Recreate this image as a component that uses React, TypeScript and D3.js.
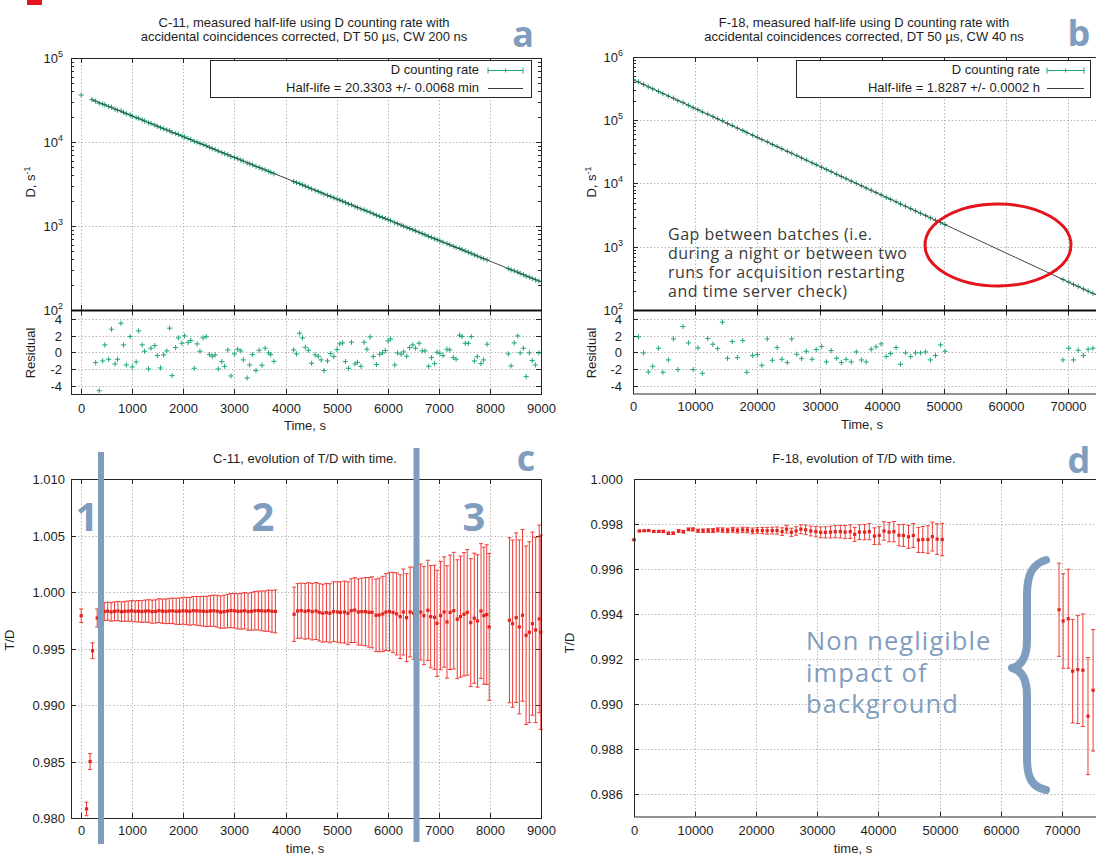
import React from 'react';
import * as d3 from 'd3';

// ---------- data ----------

// panel a: C-11 counting rate, fit parameters from the legend
const c11HalfLifeMin = 20.3303;
const c11RateAtZero = 3.6e4;
const c11FitStart = 200;
const c11EarlyTime = [0, 210];
const c11EarlyRate = [3.62e4, 3.2e4];
const c11ResTime = [
  283, 352, 421, 462, 538, 593, 662, 710, 779, 828, 883, 959, 1000, 1076, 1124, 1193, 1241, 1317, 1366, 1441,
  1490, 1552, 1614, 1676, 1731, 1779, 1848, 1903, 1972, 2021, 2090, 2145, 2214, 2269, 2324, 2386, 2448, 2510, 2566, 2621,
  2683, 2752, 2807, 2869, 2931, 3000, 3062, 3124, 3172, 3248, 3297, 3352, 3421, 3483, 3538, 3600, 3669, 3710, 3772,
  4159, 4214, 4276, 4331, 4386, 4448, 4510, 4579, 4641, 4697, 4752, 4821, 4883, 4945, 5007, 5062, 5117, 5172, 5234, 5290,
  5359, 5407, 5476, 5538, 5593, 5655, 5717, 5779, 5841, 5897, 5952, 6007, 6055, 6138, 6193, 6262, 6310, 6372, 6428, 6490,
  6545, 6614, 6676, 6731, 6800, 6855, 6917, 6966, 7021, 7083, 7159, 7214, 7283, 7338, 7407, 7455, 7517, 7579, 7634, 7697,
  7752, 7824, 7876, 7945,
  8359, 8414, 8476, 8545, 8593, 8655, 8710, 8772, 8828, 8890, 8959,
];
const c11Residual = [
  -1.24, -4.6, -1.04, 0.88, -0.84, 2.76, -1.4, -0.84, 3.48, 0.88, -1.52, 1.88, -1.76, -1.16, 2.56, 0.88, 0.12, -2.0, 0.48, 0.8,
  -0.4, -1.88, -0.32, 0.16, 2.88, -2.8, 0.56, 1.72, 1.08, 1.96, 1.16, 1.4, -1.92, 1.0, 0.12, 1.72, 1.88, -0.28, -0.48, -0.32,
  -2.0, -1.12, -1.68, 0.28, -2.84, -0.2, 0.36, 0.16, -0.92, -3.08, -1.52, -0.28, -2.2, 0.24, -1.56, 0.48, -0.08, -0.28, -1.08,
  0.28, -0.2, 2.28, 1.72, 0.6, 0.24, -1.32, -0.32, -0.48, -0.92, -2.2, -1.04, -0.16, -0.52, 0.32, 1.0, 1.12, -1.12, -1.92, 1.2,
  -1.4, -1.2, -1.68, 1.2, 0.36, 1.84, -0.52, -1.48, -0.24, -0.08, 0.2, 1.36, 1.6, -1.52, -0.08, -0.24, 0.04, -0.48, 0.56, 0.88,
  0.48, 1.08, 0.16, 0.16, -1.68, -0.64, -1.36, 0.0, -0.12, -0.4, 0.36, 0.28, -0.64, -0.84, 2.04, 1.88, 1.08, 1.08, 1.88, -1.04,
  -0.52, -1.36, -0.92, 0.96,
  -0.2, -1.64, 1.12, 1.96, -0.08, 0.48, -2.92, -0.08, -1.0, -1.52, -0.08,
];

// panel b: F-18 counting rate
const f18HalfLifeH = 1.8287;
const f18RateAtZero = 4.4e5;
const f18ResTime = [
  874, 1694, 2459, 3169, 4098, 4809, 5683, 6503, 7213, 8033, 8907, 9672, 10437, 11148, 12022, 12842, 13607, 14372, 15191, 15956,
  16776, 17650, 18306, 19235, 20000, 20710, 21585, 22404, 23169, 23934, 24809, 25519, 26339, 27104, 27869, 28798, 29454, 30328,
  31093, 31858, 32732, 33497, 34262, 35082, 35902, 36721, 37486, 38306, 39071, 39891, 40710, 41421, 42295, 43005, 43825, 44645,
  45410, 46230, 47049, 47814, 48634, 49454, 50164,
  69126, 70055, 70820, 71585, 72404, 73169, 73934,
];
const f18Residual = [
  1.84, -0.08, -2.36, -1.68, 0.48, -2.4, -0.92, 1.6, -2.08, 3.08, 1.12, -2.08, 0.52, -2.52, 1.64, 0.96, 0.44, 3.6, -0.72, 1.28,
  -0.64, 1.4, -2.4, -0.4, -0.28, -1.56, 1.6, -0.96, 0.56, -0.84, -1.24, 1.6, -0.24, -0.76, 0.12, -0.84, 0.32, 0.68,
  -1.16, 0.2, -0.72, -1.24, -0.84, -1.16, 0.04, -0.92, -1.16, 0.36, 0.64, 1.0, -0.52, -0.16, 0.56, -1.44, -0.08, -0.52,
  -0.08, -0.08, 0.04, -0.92, -0.4, 0.88, 0.12,
  -0.92, 0.48, -0.92, 0.24, -0.4, 0.36, 0.48,
];

// panel c: C-11 T/D
const c11TdTime = [
  0, 104, 174, 222, 312,
  451, 518, 585, 652, 719, 787, 853, 920, 987, 1055, 1121, 1188, 1256, 1322, 1389, 1457, 1523, 1590, 1658, 1724,
  1791, 1859, 1925, 1992, 2060, 2126, 2193, 2261, 2327, 2394, 2462, 2528, 2595, 2663, 2729, 2796, 2864, 2930, 2997, 3065,
  3131, 3198, 3266, 3332, 3399, 3467, 3533, 3600, 3668, 3734, 3801,
  4167, 4236, 4306, 4382, 4451, 4521, 4597, 4660, 4729, 4799, 4868, 4938, 5014, 5076, 5153, 5222, 5285, 5354, 5424, 5493,
  5563, 5632, 5694, 5771, 5833, 5903, 5965, 6035, 6104, 6174, 6243, 6306, 6368, 6438, 6507, 6576, 6646, 6708, 6785, 6840,
  6917, 6965, 7035, 7104, 7160, 7222, 7292, 7361, 7424, 7493, 7556, 7625, 7694, 7757, 7826, 7882, 7938, 7986,
  8382, 8444, 8514, 8576, 8639, 8708, 8771, 8833, 8896, 8965, 8995,
];
const c11TdValue = [
  0.9979, 0.9808, 0.985, 0.9948, 0.9977,
  0.99826, 0.9983, 0.99824, 0.99829, 0.99832, 0.99826, 0.99829, 0.9983, 0.99833, 0.99829,
  0.9983, 0.99827, 0.99831, 0.99832, 0.99826, 0.99828, 0.99835, 0.9983, 0.99829, 0.99832,
  0.99833, 0.99829, 0.9983, 0.99834, 0.99832, 0.99829, 0.99835, 0.99833, 0.99831, 0.9983,
  0.99828, 0.99832, 0.99834, 0.9983, 0.99822, 0.99826, 0.99831, 0.99836, 0.99834, 0.99829,
  0.9983, 0.99835, 0.99826, 0.99829, 0.99834, 0.99836, 0.99833, 0.99831, 0.99835, 0.99829, 0.99828,
  0.99803, 0.99832, 0.99835, 0.99829, 0.99835, 0.99826, 0.99832, 0.9982, 0.99812, 0.99818,
  0.99812, 0.99826, 0.99823, 0.9982, 0.99823, 0.99812, 0.99835, 0.9984, 0.99823, 0.99826,
  0.99826, 0.9982, 0.9982, 0.99794, 0.99797, 0.99806, 0.99823, 0.99826, 0.99818, 0.99806,
  0.99782, 0.99823, 0.99773, 0.99823, 0.99812, 0.99826, 0.99823, 0.99791, 0.99838, 0.99782,
  0.99776, 0.99723, 0.99791, 0.99823, 0.99735, 0.9982, 0.99835, 0.99759, 0.99782, 0.99803,
  0.9982, 0.99729, 0.99768, 0.99744, 0.99832, 0.99791, 0.998, 0.99691,
  0.9975, 0.9972, 0.99773, 0.99691, 0.99794, 0.99617, 0.99644, 0.9972, 0.99664, 0.99762, 0.99644,
];
const c11TdErr = [
  0.0006, 0.0006, 0.0007, 0.0007, 0.0008,
  0.00078, 0.0008, 0.00082, 0.00083, 0.00085, 0.00086, 0.00088, 0.0009, 0.00091, 0.00093,
  0.00095, 0.00096, 0.00098, 0.001, 0.00102, 0.00103, 0.00105, 0.00107, 0.00109, 0.00111,
  0.00113, 0.00115, 0.00117, 0.00119, 0.00121, 0.00123, 0.00125, 0.00127, 0.00129, 0.00132,
  0.00134, 0.00136, 0.00138, 0.00141, 0.00143, 0.00146, 0.00148, 0.00151, 0.00153, 0.00156,
  0.00158, 0.00161, 0.00164, 0.00167, 0.0017, 0.00172, 0.00176, 0.00179, 0.00182, 0.00185, 0.0019,
  0.0024, 0.00242, 0.00244, 0.00246, 0.00248, 0.0025, 0.00252, 0.00254, 0.00256, 0.00258,
  0.00261, 0.00264, 0.00267, 0.0027, 0.00274, 0.00278, 0.00282, 0.00287, 0.00292, 0.00297,
  0.00302, 0.00308, 0.00314, 0.0032, 0.00326, 0.00333, 0.0034, 0.00347, 0.00355, 0.00363,
  0.00371, 0.0038, 0.00389, 0.00398, 0.00407, 0.00416, 0.00425, 0.00434, 0.00443, 0.00452,
  0.00461, 0.0047, 0.00479, 0.00488, 0.00497, 0.00506, 0.00516, 0.00526, 0.00536, 0.00546,
  0.00556, 0.00566, 0.00576, 0.00586, 0.00596, 0.00606, 0.00618, 0.0065,
  0.0073, 0.0074, 0.0075, 0.0077, 0.0076, 0.0079, 0.008, 0.0081, 0.0082, 0.0083, 0.0086,
];

// panel d: F-18 T/D
const f18TdTime = [
  0, 892, 1672, 2397, 3233, 4069, 4794, 5630, 6410, 7302, 8082, 8918, 9643, 10479, 11315, 12151, 12932, 13712, 14492, 15329,
  16165, 16945, 17781, 18561, 19398, 20178, 21014, 21794, 22630, 23411, 24247, 24972, 25752, 26532, 27313, 28093, 28929, 29766,
  30546, 31326, 32162, 32942, 33778, 34559, 35395, 36120, 36900, 37736, 38516, 39352, 40133, 40913, 41749, 42530, 43366, 44090,
  44926, 45707, 46543, 47268, 48104, 48828, 49609, 50445,
  69565, 70234, 71070, 71795, 72631, 73467, 74303, 75139,
];
const f18TdValue = [
  0.9973, 0.99769, 0.9977, 0.99771, 0.99767, 0.99767, 0.99767, 0.99759, 0.99759, 0.99769,
  0.99766, 0.99776, 0.99776, 0.9977, 0.9977, 0.99771, 0.99771, 0.99774, 0.99773, 0.99771,
  0.99774, 0.99771, 0.99774, 0.99773, 0.99769, 0.99771, 0.99771, 0.9977, 0.99771, 0.99771,
  0.99766, 0.99777, 0.99763, 0.99769, 0.99777, 0.99774, 0.99769, 0.99766, 0.99763, 0.99763,
  0.99764, 0.99766, 0.99766, 0.99764, 0.99766, 0.99754, 0.99764, 0.99764, 0.99766, 0.99746,
  0.99749, 0.99769, 0.99764, 0.99766, 0.9975, 0.99749, 0.99743, 0.99749, 0.99729, 0.99731,
  0.99731, 0.99744, 0.99733, 0.99731,
  0.99419, 0.99369, 0.99379, 0.99146, 0.99153, 0.9915, 0.98946, 0.99061,
];
const f18TdErr = [
  0.00002, 0.00003, 0.00003, 0.00004, 0.00004, 0.00004, 0.00005, 0.00005, 0.00005, 0.00006,
  0.00006, 0.00006, 0.00007, 0.00007, 0.00008, 0.00008, 0.00009, 0.00009, 0.0001, 0.0001,
  0.00011, 0.00011, 0.00012, 0.00012, 0.00013, 0.00013, 0.00014, 0.00015, 0.00015, 0.00016,
  0.00017, 0.00017, 0.00018, 0.00019, 0.0002, 0.00021, 0.00022, 0.00023, 0.00024, 0.00025,
  0.00026, 0.00027, 0.00028, 0.00029, 0.0003, 0.00031, 0.00033, 0.00034, 0.00036, 0.00037,
  0.00039, 0.00041, 0.00043, 0.00045, 0.00047, 0.00049, 0.00051, 0.00053, 0.00056, 0.00058,
  0.00061, 0.00064, 0.00068, 0.00072,
  0.00207, 0.0021, 0.0022, 0.0023, 0.0024, 0.0025, 0.0026, 0.0027,
];

// ticks
const c11TimeTicks = [0, 1000, 2000, 3000, 4000, 5000, 6000, 7000, 8000, 9000];
const f18TimeTicks = [0, 10000, 20000, 30000, 40000, 50000, 60000, 70000];
const residualTicks = [-4, -2, 0, 2, 4];
const c11RateExp = [2, 3, 4, 5];
const f18RateExp = [2, 3, 4, 5, 6];
const c11TdTicks = [0.98, 0.985, 0.99, 0.995, 1.0, 1.005, 1.01];
const f18TdTicks = [0.986, 0.988, 0.99, 0.992, 0.994, 0.996, 0.998, 1.0];

// ---------- style ----------
const FONT = '"Liberation Sans", Arial, sans-serif';
const ROUND = '"Open Sans", "DejaVu Sans", sans-serif';
const TXT = '#1e1e1e';
const AX = '#262626';
const GRID = '#a6a6a6';
const BLUE = '#7f9dbf';
const GREEN = '#1fa67a';
const FITC = '#3c3c3c';
const RED = '#e4231d';
const REDBAR = '#ee3a35';

type Sc = (v: number) => number;

// ---------- scales ----------
const xA = d3.scaleLinear().domain([-200, 9000]).range([71, 541]);
const yA = d3.scaleLog().domain([100, 1e5]).range([310, 58]);
const yRes = d3.scaleLinear().domain([-5, 5]).range([394, 310.5]);
const xB = d3.scaleLinear().domain([0, 80000]).range([633, 1130.6]);
const yB = d3.scaleLog().domain([100, 1e6]).range([310, 57]);
const xC = xA;
const yC = d3.scaleLinear().domain([0.98, 1.01]).range([818, 479]);
const xD = d3.scaleLinear().domain([0, 80000]).range([634, 1122.8]);
const yD = d3.scaleLinear().domain([0.985, 1.0]).range([816.5, 479]);

const plus = (x: number, y: number, s = 2.6) => `M${x - s},${y}h${2 * s}M${x},${y - s}v${2 * s}`;

function XTicks({ sc, ticks, top, bottom, labelY }: { sc: Sc; ticks: number[]; top: number; bottom: number; labelY?: number }) {
  return (
    <g>
      {ticks.map((t) => {
        const x = Math.round(sc(t)) + 0.5;
        return (
          <g key={t}>
            <line x1={x} x2={x} y1={top} y2={bottom} stroke={GRID} strokeWidth={0.8} strokeDasharray="1.5,2" />
            <path d={`M${x},${bottom}v-5M${x},${top}v5`} stroke={AX} />
            {labelY !== undefined && (
              <text x={x} y={labelY} textAnchor="middle" fontSize={13} fill={TXT}>{t}</text>
            )}
          </g>
        );
      })}
    </g>
  );
}

function YTicks({ ys, left, right, labelX, labels }: { ys: number[]; left: number; right: number; labelX: number; labels: React.ReactNode[] }) {
  return (
    <g>
      {ys.map((yy, i) => {
        const y = Math.round(yy) + 0.5;
        return (
          <g key={i}>
            <line x1={left} x2={right} y1={y} y2={y} stroke={GRID} strokeWidth={0.8} strokeDasharray="1.5,2" />
            <path d={`M${left},${y}h5M${right},${y}h-5`} stroke={AX} />
            <text x={labelX} y={y + 4.5} textAnchor="end" fontSize={13} fill={TXT}>{labels[i]}</text>
          </g>
        );
      })}
    </g>
  );
}

function LogMinor({ sc, exps, left, right }: { sc: Sc; exps: number[]; left: number; right: number }) {
  const out: React.ReactNode[] = [];
  exps.slice(0, -1).forEach((e) => {
    for (let k = 2; k < 10; k++) {
      const y = Math.round(sc(k * Math.pow(10, e))) + 0.5;
      out.push(<path key={`${e}-${k}`} d={`M${left},${y}h3M${right},${y}h-3`} stroke={AX} />);
    }
  });
  return <g>{out}</g>;
}

const pow10 = (e: number) => (
  <>
    10<tspan dy={-6} fontSize={9}>{e}</tspan>
  </>
);

function ErrorPoints({ xs, ys, time, value, err }: { xs: Sc; ys: Sc; time: number[]; value: number[]; err: number[] }) {
  return (
    <g>
      {time.map((t, i) => {
        const x = xs(t);
        const y = ys(value[i]);
        const y1 = ys(value[i] - err[i]);
        const y2 = ys(value[i] + err[i]);
        return (
          <g key={i}>
            <path d={`M${x},${y1}V${y2}M${x - 2},${y1}h4M${x - 2},${y2}h4`} stroke={REDBAR} strokeWidth={1} fill="none" />
            <rect x={x - 1.6} y={y - 1.6} width={3.2} height={3.2} fill={RED} />
          </g>
        );
      })}
    </g>
  );
}

function PanelA() {
  const T = c11HalfLifeMin * 60;
  const fit = (t: number) => c11RateAtZero * Math.pow(2, -t / T);
  const fitPath = d3.line()(d3.range(c11FitStart, 9001, 50).map((t) => [xA(t), yA(fit(t))] as [number, number]));
  const L = 71, R = 541;
  return (
    <g fontFamily={FONT}>
      <text x={304} y={27} textAnchor="middle" fontSize={13} fill={TXT}>C-11, measured half-life using D counting rate with</text>
      <text x={304} y={41} textAnchor="middle" fontSize={13} fill={TXT}>accidental coincidences corrected, DT 50 µs, CW 200 ns</text>
      {/* upper plot */}
      <XTicks sc={xA} ticks={c11TimeTicks} top={58} bottom={310} />
      <YTicks ys={c11RateExp.map((e) => yA(Math.pow(10, e)))} left={L} right={R} labelX={63} labels={c11RateExp.map(pow10)} />
      <LogMinor sc={yA} exps={c11RateExp} left={L} right={R} />
      {c11EarlyTime.map((t, i) => (
        <path key={`e${i}`} d={plus(xA(t), yA(c11EarlyRate[i]))} stroke={GREEN} strokeWidth={1} />
      ))}
      {c11ResTime.map((t, i) => (
        <path key={i} d={plus(xA(t), yA(fit(t) * (1 + c11Residual[i] * 0.004)))} stroke={GREEN} strokeWidth={1} />
      ))}
      <path d={fitPath ?? ''} fill="none" stroke={FITC} strokeWidth={1} />
      {/* legend */}
      <rect x={210.5} y={60.5} width={321} height={37} fill="#fff" stroke={AX} />
      <text x={479} y={74} textAnchor="end" fontSize={13} fill={TXT}>D counting rate</text>
      <path d="M488,70.5H523M488,67.5v6M523,67.5v6M505.5,68.5v4" stroke={GREEN} strokeWidth={1} />
      <text x={479} y={92} textAnchor="end" fontSize={13} fill={TXT}>Half-life = 20.3303 +/- 0.0068 min</text>
      <line x1={488} x2={523} y1={88.5} y2={88.5} stroke={FITC} strokeWidth={1} />
      <text transform="translate(35,182) rotate(-90)" textAnchor="middle" fontSize={13} fill={TXT}>
        D, s<tspan dy={-5} fontSize={9}>-1</tspan>
      </text>
      {/* residual plot */}
      <XTicks sc={xA} ticks={c11TimeTicks} top={310.5} bottom={394} labelY={413} />
      <YTicks ys={residualTicks.map((v) => yRes(v))} left={L} right={R} labelX={62} labels={residualTicks.map(String)} />
      {c11ResTime.map((t, i) => (
        <path key={i} d={plus(xA(t), yRes(c11Residual[i]))} stroke={GREEN} strokeWidth={1} />
      ))}
      <rect x={L + 0.5} y={58.5} width={R - L} height={336} fill="none" stroke={AX} />
      <line x1={L} x2={R + 1} y1={310.5} y2={310.5} stroke="#111" strokeWidth={2} />
      <text transform="translate(35,353) rotate(-90)" textAnchor="middle" fontSize={13} fill={TXT}>Residual</text>
      <text x={305} y={430} textAnchor="middle" fontSize={13} fill={TXT}>Time, s</text>
    </g>
  );
}

function PanelB() {
  const T = f18HalfLifeH * 3600;
  const fit = (t: number) => f18RateAtZero * Math.pow(2, -t / T);
  const fitPath = d3.line()(d3.range(0, 80001, 500).map((t) => [xB(t), yB(fit(t))] as [number, number]));
  const L = 633, R = 1131;
  return (
    <g fontFamily={FONT}>
      <defs>
        <clipPath id="clipB"><rect x={L} y={57} width={R - L} height={253} /></clipPath>
      </defs>
      <text x={864} y={27} textAnchor="middle" fontSize={13} fill={TXT}>F-18, measured half-life using D counting rate with</text>
      <text x={864} y={41} textAnchor="middle" fontSize={13} fill={TXT}>accidental coincidences corrected, DT 50 µs, CW 40 ns</text>
      <XTicks sc={xB} ticks={f18TimeTicks} top={57} bottom={310} />
      <YTicks ys={f18RateExp.map((e) => yB(Math.pow(10, e)))} left={L} right={R} labelX={623} labels={f18RateExp.map(pow10)} />
      <LogMinor sc={yB} exps={f18RateExp} left={L} right={R} />
      <g clipPath="url(#clipB)">
        <path d={plus(xB(0), yB(f18RateAtZero))} stroke={GREEN} strokeWidth={1} />
        {f18ResTime.map((t, i) => (
          <path key={i} d={plus(xB(t), yB(fit(t) * (1 + f18Residual[i] * 0.004)))} stroke={GREEN} strokeWidth={1} />
        ))}
        <path d={fitPath ?? ''} fill="none" stroke={FITC} strokeWidth={1} />
      </g>
      <rect x={796.5} y={60.5} width={294} height={37} fill="#fff" stroke={AX} />
      <text x={1040} y={74} textAnchor="end" fontSize={13} fill={TXT}>D counting rate</text>
      <path d="M1047,70.5H1084M1047,67.5v6M1084,67.5v6M1065.5,68.5v4" stroke={GREEN} strokeWidth={1} />
      <text x={1040} y={92} textAnchor="end" fontSize={13} fill={TXT}>Half-life = 1.8287 +/- 0.0002 h</text>
      <line x1={1047} x2={1084} y1={88.5} y2={88.5} stroke={FITC} strokeWidth={1} />
      <text transform="translate(596,182) rotate(-90)" textAnchor="middle" fontSize={13} fill={TXT}>
        D, s<tspan dy={-5} fontSize={9}>-1</tspan>
      </text>
      <XTicks sc={xB} ticks={f18TimeTicks} top={310.5} bottom={394} labelY={411} />
      <YTicks ys={residualTicks.map((v) => yRes(v))} left={L} right={R} labelX={622} labels={residualTicks.map(String)} />
      {f18ResTime.map((t, i) => (
        <path key={i} d={plus(xB(t), yRes(f18Residual[i]))} stroke={GREEN} strokeWidth={1} />
      ))}
      <rect x={L + 0.5} y={57.5} width={R - L} height={336.5} fill="none" stroke={AX} />
      <line x1={L} x2={R} y1={310.5} y2={310.5} stroke="#111" strokeWidth={2} />
      <text transform="translate(596,353) rotate(-90)" textAnchor="middle" fontSize={13} fill={TXT}>Residual</text>
      <text x={862} y={429} textAnchor="middle" fontSize={13} fill={TXT}>Time, s</text>
      {/* annotation */}
      <g fontFamily={ROUND} fontSize={16} letterSpacing={0.5} fill="#3a3a3a">
        <text x={668} y={240}>Gap between batches (i.e.</text>
        <text x={668} y={259}>during a night or between two</text>
        <text x={668} y={278}>runs for acquisition restarting</text>
        <text x={668} y={297}>and time server check)</text>
      </g>
      <ellipse cx={998} cy={245} rx={73} ry={41} fill="none" stroke="#e3141c" strokeWidth={3} />
    </g>
  );
}

function PanelC() {
  const L = 71, R = 541, Tp = 479, B = 818;
  return (
    <g fontFamily={FONT}>
      <text x={305} y={463} textAnchor="middle" fontSize={13} fill={TXT}>C-11, evolution of T/D with time.</text>
      <XTicks sc={xC} ticks={c11TimeTicks} top={Tp} bottom={B} labelY={835} />
      <YTicks ys={c11TdTicks.map((v) => yC(v))} left={L} right={R} labelX={65} labels={c11TdTicks.map((v) => v.toFixed(3))} />
      <ErrorPoints xs={xC} ys={yC} time={c11TdTime} value={c11TdValue} err={c11TdErr} />
      <rect x={L + 0.5} y={Tp + 0.5} width={R - L} height={B - Tp} fill="none" stroke={AX} />
      <text transform="translate(14,640) rotate(-90)" textAnchor="middle" fontSize={13} fill={TXT}>T/D</text>
      <text x={305} y={853} textAnchor="middle" fontSize={13} fill={TXT}>time, s</text>
      {/* overlays */}
      <rect x={98} y={452} width={6} height={392} fill={BLUE} />
      <rect x={413.5} y={448} width={6} height={394} fill={BLUE} />
      <g fontFamily={ROUND} fontWeight={700} fontSize={40} fill={BLUE} textAnchor="middle">
        <text x={87} y={531}>1</text>
        <text x={263} y={531}>2</text>
        <text x={474} y={531}>3</text>
      </g>
    </g>
  );
}

function PanelD() {
  const L = 634, R = 1123, Tp = 479, B = 816.5;
  const brace =
    'M1046,560 C1032,564 1027,575 1027,595 L1027,640 C1027,658 1021,666 1012,668 C1021,670 1027,678 1027,696 L1027,758 C1027,778 1032,787 1046,790';
  return (
    <g fontFamily={FONT}>
      <text x={864} y={463} textAnchor="middle" fontSize={13} fill={TXT}>F-18, evolution of T/D with time.</text>
      <XTicks sc={xD} ticks={f18TimeTicks} top={Tp} bottom={B} labelY={835} />
      <YTicks ys={f18TdTicks.map((v) => yD(v))} left={L} right={R} labelX={623} labels={f18TdTicks.map((v) => v.toFixed(3))} />
      <ErrorPoints xs={xD} ys={yD} time={f18TdTime} value={f18TdValue} err={f18TdErr} />
      <rect x={L + 0.5} y={Tp + 0.5} width={R - L} height={B - Tp} fill="none" stroke={AX} />
      <text transform="translate(574,643) rotate(-90)" textAnchor="middle" fontSize={13} fill={TXT}>T/D</text>
      <text x={853} y={853} textAnchor="middle" fontSize={13} fill={TXT}>time, s</text>
      <g fontFamily={ROUND} fontSize={25.5} letterSpacing={1.1} fill={BLUE}>
        <text x={806} y={650}>Non negligible</text>
        <text x={806} y={682}>impact of</text>
        <text x={806} y={713}>background</text>
      </g>
      <path d={brace} fill="none" stroke={BLUE} strokeWidth={8} strokeLinecap="round" strokeLinejoin="round" />
    </g>
  );
}

export default function App() {
  return (
    <svg
      width={1096}
      height={855}
      viewBox="0 0 1096 855"
      style={{ position: 'absolute', left: 0, top: 0, display: 'block' }}
    >
      <rect width={1096} height={855} fill="#fff" />
      <rect x={27} y={0} width={15} height={5} fill="#e3141c" />
      <PanelA />
      <PanelB />
      <PanelC />
      <PanelD />
      <g fontFamily={ROUND} fontWeight={700} fontSize={36} fill={BLUE} textAnchor="middle">
        <text x={523} y={47}>a</text>
        <text x={1079} y={46}>b</text>
        <text x={526} y={471}>c</text>
        <text x={1079} y={473}>d</text>
      </g>
    </svg>
  );
}
